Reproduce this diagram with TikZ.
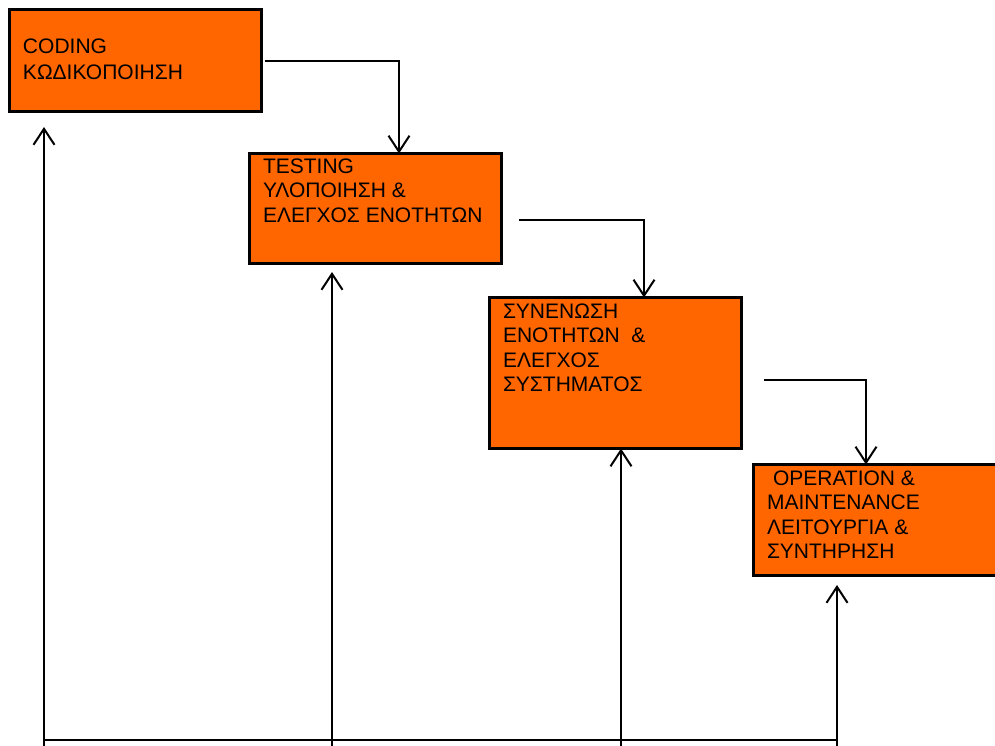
\documentclass[tikz,border=0pt]{standalone}
\usepackage{fontspec}
\setmainfont{Liberation Sans}
\usetikzlibrary{arrows.meta}
\definecolor{stagefill}{HTML}{FF6600}
\begin{document}
\begin{tikzpicture}[x=1pt,y=-1pt,
  stage/.style={draw=black, line width=3pt, fill=stagefill, inner sep=0pt, outer sep=0pt, minimum width=252pt},
  stagetext/.style={anchor=north west, align=left, inner sep=0pt, outer sep=0pt, font=\fontsize{21}{24.5}\selectfont},
  flow/.style={line width=2pt, -{Straight Barb[length=16pt,width=21pt]}},
  busline/.style={line width=2.2pt}]
  % page area
  \fill[white] (0,0) rectangle (995,746);
  \useasboundingbox (0,0) rectangle (995,746);
  \clip (0,0) rectangle (995,746);

  % the four stages
  \node[stage, minimum height=102pt] (code)  at (135.5,60.5) {};
  \node[stage, minimum height=110pt] (test)  at (375.5,208.5) {};
  \node[stage, minimum height=151pt] (integ) at (615.5,373) {};
  \node[stage, minimum height=111pt] (oper)  at (879.5,520) {};

  % stage captions
  \node[stagetext, font=\fontsize{21}{26}\selectfont] (tcode) at (23,38.8)
    {CODING\\ΚΩΔΙΚΟΠΟΙΗΣΗ};
  \node[stagetext] (ttest) at (263,158.8)
    {TESTING\\ΥΛΟΠΟΙΗΣΗ \&\\ΕΛΕΓΧΟΣ ΕΝΟΤΗΤΩΝ};
  \node[stagetext] (tinteg) at (503,303.8)
    {ΣΥΝΕΝΩΣΗ\\ΕΝΟΤΗΤΩΝ \ \&\\ΕΛΕΓΧΟΣ\\ΣΥΣΤΗΜΑΤΟΣ};
  \node[stagetext] (toper) at (767,470.8)
    {\hspace{6pt}OPERATION \&\\MAINTENANCE\\ΛΕΙΤΟΥΡΓΙΑ \&\\ΣΥΝΤΗΡΗΣΗ};

  % forward flow between stages
  \draw[flow] ([xshift=3pt,yshift=-0.5pt]code.east) -| ([xshift=23.5pt]test.north);
  \draw[flow] ([xshift=17.5pt,yshift=-11.5pt]test.east) -| ([xshift=28.5pt]integ.north);
  \draw[flow] ([xshift=22.5pt,yshift=-7pt]integ.east) -| ([xshift=-13.5pt]oper.north);

  % feedback bus along the bottom
  \coordinate (f1) at (44,760);
  \coordinate (f2) at (332,760);
  \coordinate (f3) at (621,760);
  \coordinate (f4) at (837,760);
  \coordinate (b1) at (44,740);
  \coordinate (b4) at (837,740);
  \draw[busline] (b1) -- (b4);

  \draw[flow, shorten >=15.5pt] (f1) -- (f1 |- code.south);
  \draw[flow, shorten >=8.5pt]  (f2) -- (f2 |- test.south);
  \draw[flow]                   (f3) -- (f3 |- integ.south);
  \draw[flow, shorten >=9.5pt]  (f4) -- (f4 |- oper.south);
\end{tikzpicture}
\end{document}
